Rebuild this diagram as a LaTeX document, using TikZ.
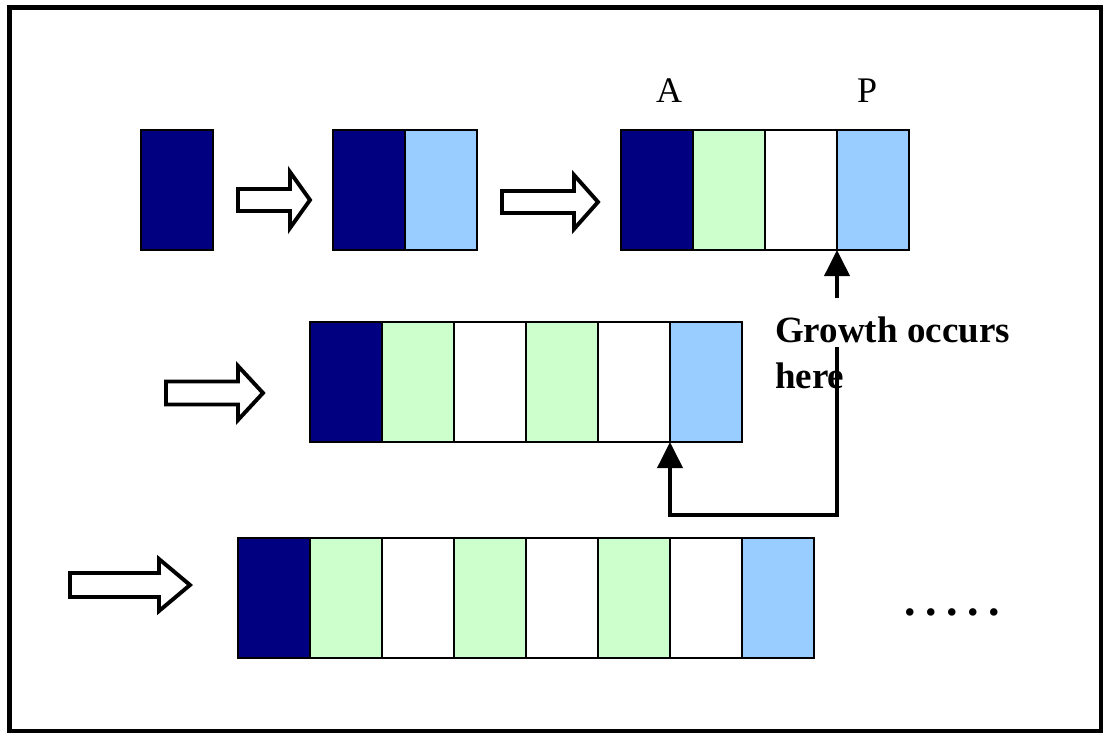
\documentclass[tikz,border=0pt]{standalone}
\usepackage{fontspec}
\setmainfont{Liberation Serif}
\usetikzlibrary{arrows.meta}
\definecolor{navy}{HTML}{000080}
\definecolor{lgreen}{HTML}{CCFFCC}
\definecolor{lblue}{HTML}{99CCFF}
\newcommand{\hollowarr}[6]{% x0, xb, x1, yc, shaft half, head half
  \draw[hollow] (#1,#4-#5) -- (#2,#4-#5) -- (#2,#4-#6) -- (#3,#4) -- (#2,#4+#6) -- (#2,#4+#5) -- (#1,#4+#5) -- cycle;}
\begin{document}
\begin{tikzpicture}[x=1pt,y=-1pt,
  cell/.style={draw=black, line width=1.6pt, minimum width=72pt, minimum height=120pt,
    anchor=north west, inner sep=0pt, outer sep=0pt},
  hollow/.style={draw=black, fill=white, line width=3.9pt, line join=miter},
  lbl/.style={inner sep=0pt, anchor=base, font=\fontsize{36}{40}\selectfont},
  growth/.style={inner sep=0pt, anchor=base west, font=\fontsize{37}{40}\selectfont\bfseries},
  conn/.style={draw=black, line width=3.8pt, -{Triangle[length=26pt,width=25pt]}}]
\useasboundingbox (0,0) rectangle (1103,733);
\draw[line width=4.4pt] (9.5,7.5) rectangle (1100.8,730.8);
% row 1
\node[cell, fill=navy] (a1) at (141,130) {};
\node[cell, fill=navy] (b1) at (333,130) {};
\node[cell, fill=lblue] (b2) at (405,130) {};
\foreach \c [count=\i from 0] in {navy,lgreen,white,lblue}
  \node[cell, fill=\c] (c\i) at (621+72*\i,130) {};
% row 2
\foreach \c [count=\i from 0] in {navy,lgreen,white,lgreen,white,lblue}
  \node[cell, fill=\c] (d\i) at (310+72*\i,322) {};
% row 3
\foreach \c [count=\i from 0] in {navy,lgreen,white,lgreen,white,lgreen,white,lblue}
  \node[cell, fill=\c] (e\i) at (238+72*\i,538) {};
% hollow arrows
\hollowarr{238}{290}{310}{200}{11}{28}
\hollowarr{502}{574}{598}{202}{11}{27}
\hollowarr{166}{238}{263}{393}{11.5}{27}
\hollowarr{70}{159}{190}{585}{12}{26}
% labels
\node[lbl] (la) at (669,103) {A};
\node[lbl] (lp) at (867,103) {P};
\node[growth] (g1) at (775,342) {Growth occurs};
\node[growth] (g2) at (775,388) {here};
% connectors
\coordinate (s1) at (837,298);
\coordinate (s2) at (837,347);
\draw[conn] (s1) -- (c2.south east);
\draw[conn] (s2) -- ++(0,168) -| (d4.south east);
% dots
\node[inner sep=0pt, anchor=base west, font=\fontsize{46}{50}\selectfont\bfseries] (dots) at (904,615)
  {.\hspace{9.5pt}.\hspace{9.5pt}.\hspace{9.5pt}.\hspace{9.5pt}.};
\end{tikzpicture}
\end{document}
